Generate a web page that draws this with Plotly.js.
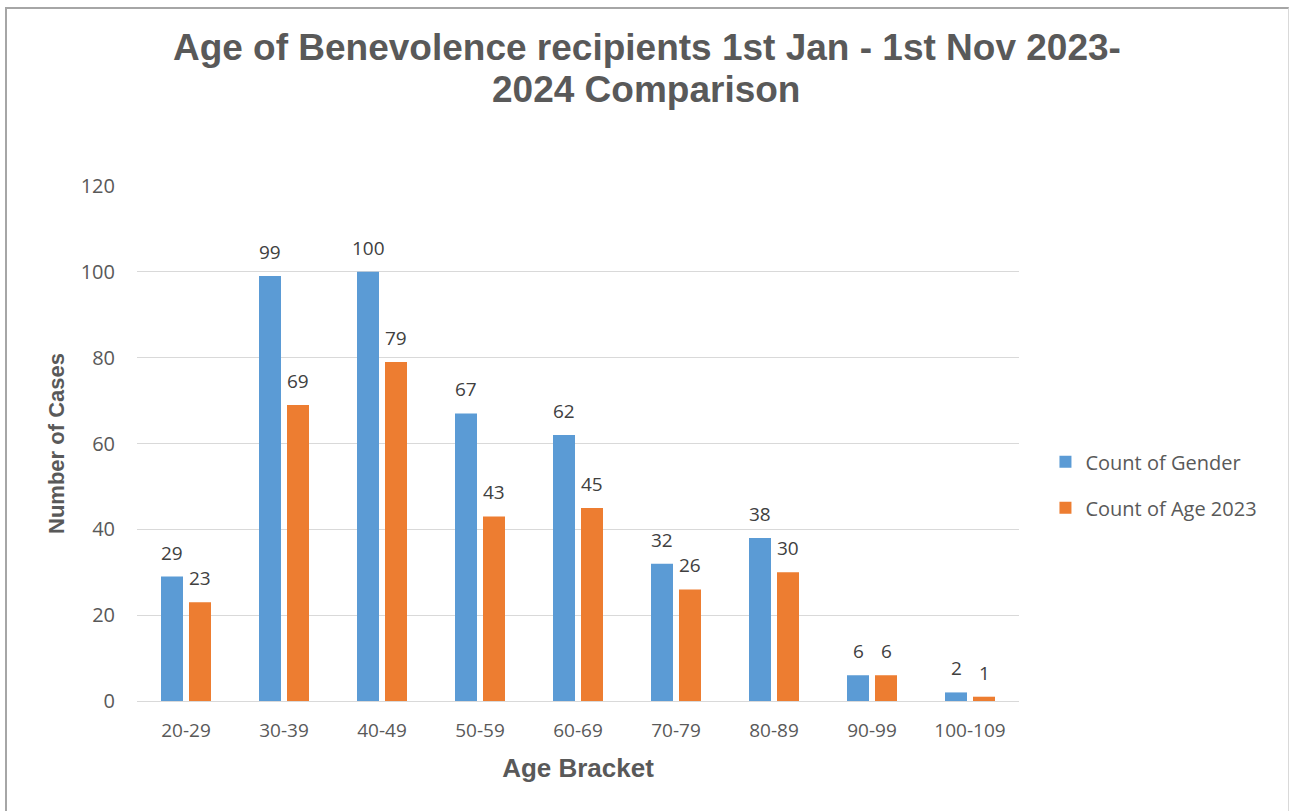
<!DOCTYPE html>
<html>
<head>
<meta charset="utf-8">
<script src="https://cdn.plot.ly/plotly-3.0.1.min.js"></script>
<style>
html,body{margin:0;padding:0;background:#fff;}
#chart{width:1290px;height:811px;position:absolute;left:0;top:0;}
#frame{position:absolute;left:5px;top:7px;width:1281px;height:820px;border-top:2px solid #a6a6a6;border-left:2px solid #a6a6a6;border-right:1px solid #d9d9d9;pointer-events:none;}
</style>
</head>
<body>
<div id="chart"></div>
<div id="frame"></div>
<script>
const categories = ["20-29","30-39","40-49","50-59","60-69","70-79","80-89","90-99","100-109"];
const countOfGender = [29,99,100,67,62,32,38,6,2];
const countOfAge2023 = [23,69,79,43,45,26,30,6,1];
const yTicks = [0,20,40,60,80,100,120];
const titleLine1 = "Age of Benevolence recipients 1st Jan - 1st Nov 2023-";
const titleLine2 = "2024 Comparison";

const sansFont = "Open Sans, Noto Sans, sans-serif";
const titleFamily = "Liberation Sans, Arial, sans-serif";
const labelFont = {family:sansFont, size:19, color:"#404040"};

const traces = [
  {type:"bar", name:"Count of Gender", x:categories, y:countOfGender,
   marker:{color:"#5b9bd5"}, legendgroup:"a", hoverinfo:"x+y"},
  {type:"bar", name:"Count of Age 2023", x:categories, y:countOfAge2023,
   marker:{color:"#ed7d31"}, legendgroup:"b", hoverinfo:"x+y"}
];

function labelAnnotations(values, shift) {
  return categories.map((c, i) => ({
    x:c, y:values[i], xref:"x", yref:"y", text:String(values[i]),
    showarrow:false, xanchor:"center", yanchor:"bottom",
    xshift:shift, yshift:9, font:labelFont
  }));
}

const annotations = labelAnnotations(countOfGender, -14)
  .concat(labelAnnotations(countOfAge2023, 14))
  .concat([{
    text:titleLine2, xref:"paper", yref:"paper", x:0.5, y:1.1874,
    xshift:68, xanchor:"center", yanchor:"middle", showarrow:false,
    font:{family:titleFamily, size:37, color:"#595959", weight:"bold"}
  }]);

const layout = {
  width:1290, height:811,
  margin:{l:137, r:271, t:186, b:110},
  paper_bgcolor:"#ffffff", plot_bgcolor:"#ffffff",
  barmode:"group", bargap:0.4286, bargroupgap:0.214,
  title:{text:titleLine1,
    font:{family:titleFamily, size:37, color:"#595959", weight:"bold"},
    x:0.5015, xanchor:"center", y:0.9414, yanchor:"middle"},
  annotations:annotations,
  xaxis:{type:"category", range:[-0.5,8.5], showgrid:false, showline:true, linecolor:"#d9d9d9", linewidth:1,
    ticks:"", ticklabelstandoff:12, tickfont:{family:sansFont, size:19, color:"#595959"},
    title:{text:"<b>Age Bracket</b>", font:{family:titleFamily, size:26, color:"#595959"}, standoff:17}},
  yaxis:{range:[0,120], tickvals:yTicks, ticktext:yTicks.map(String), showgrid:true, gridcolor:"#d9d9d9", gridwidth:1,
    zeroline:false, showline:false, ticks:"", ticklabelstandoff:21,
    tickfont:{family:sansFont, size:20, color:"#595959"},
    title:{text:"<b>Number of Cases</b>", font:{family:titleFamily, size:22, color:"#595959"}, standoff:9}},
  legend:{x:1.03, xanchor:"left", y:0.42, yanchor:"middle", tracegroupgap:17,
    font:{family:sansFont, size:20, color:"#595959"}, bgcolor:"rgba(0,0,0,0)"},
  showlegend:true
};

Plotly.newPlot("chart", traces, layout, {displayModeBar:false, staticPlot:true});
</script>
</body>
</html>
